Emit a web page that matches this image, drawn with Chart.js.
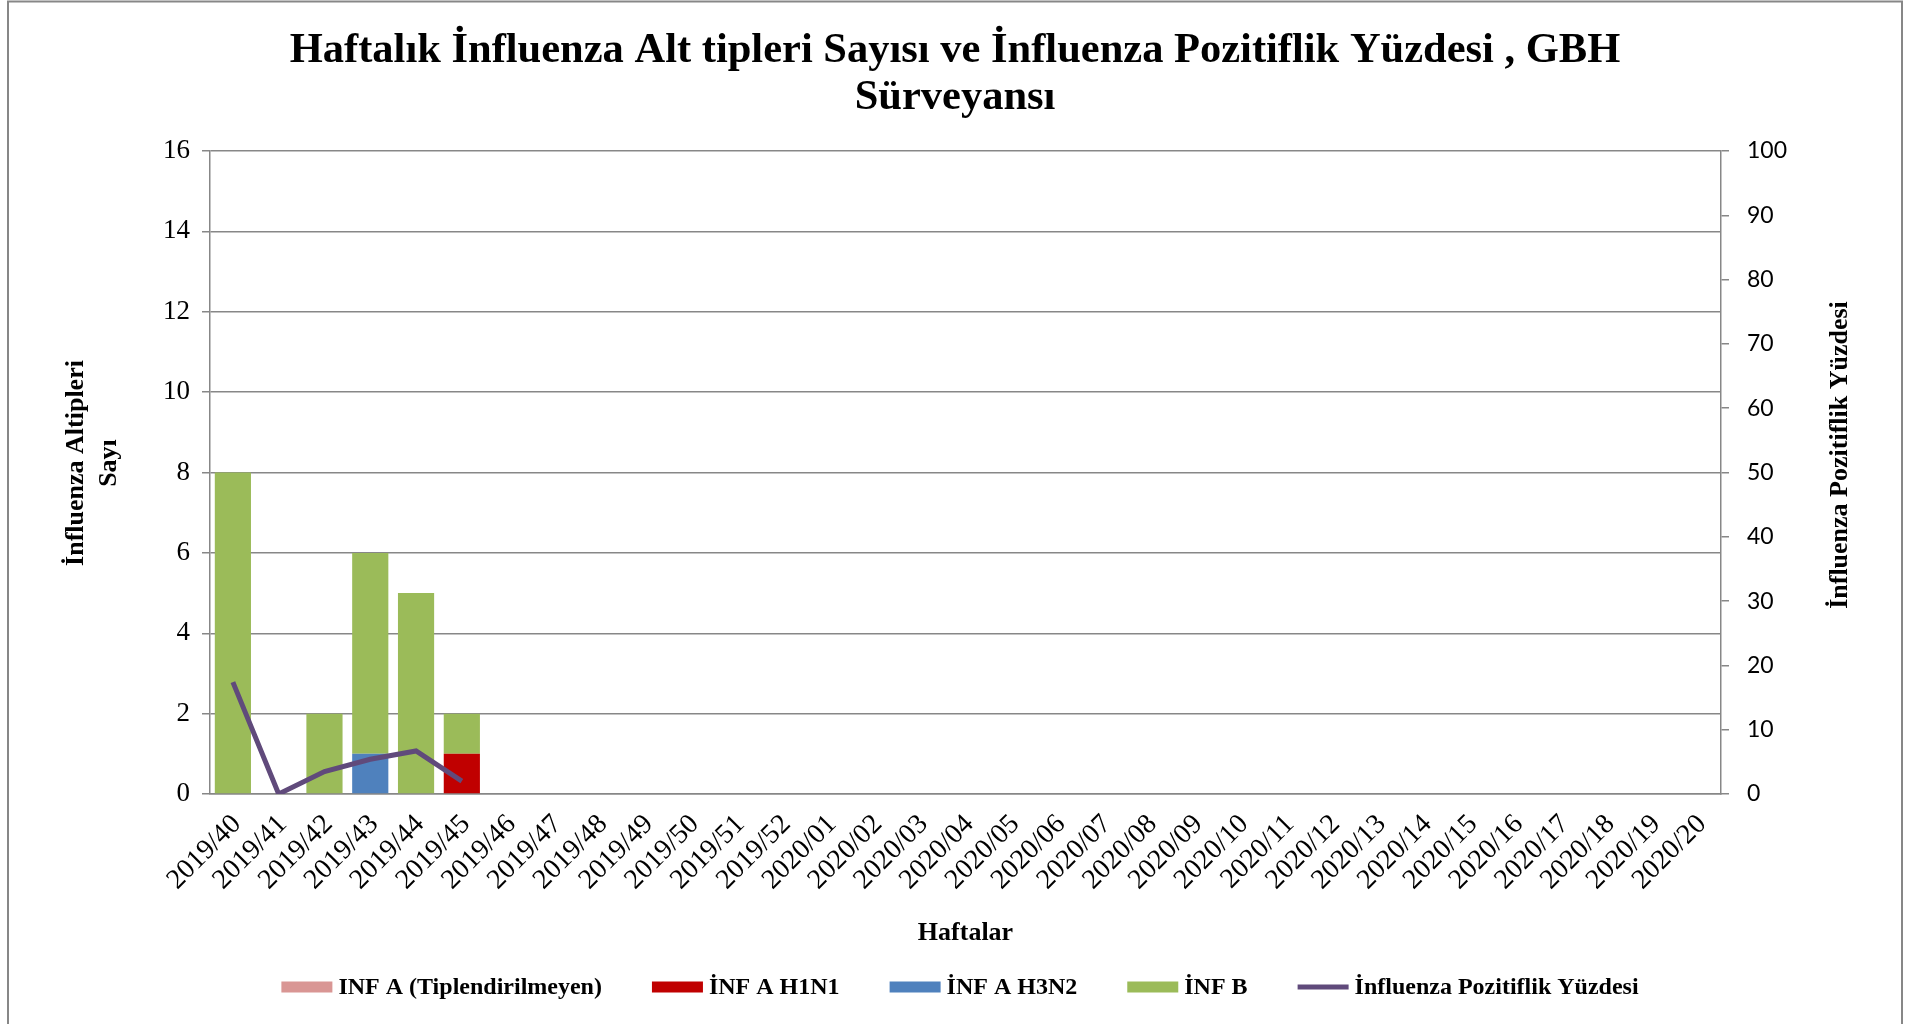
<!DOCTYPE html>
<html>
<head>
<meta charset="utf-8">
<script src="https://cdn.jsdelivr.net/npm/chart.js@4.4.1/dist/chart.umd.min.js"></script>
<style>
html,body{margin:0;padding:0;background:#fff;overflow:hidden;}
#wrap{width:1921px;height:1024px;position:relative;}
canvas{display:block;}
</style>
</head>
<body>
<div id="wrap"><canvas id="c" width="1921" height="1024"></canvas></div>
<script>
// ---- data ----
const weeks = [
  '2019/40','2019/41','2019/42','2019/43','2019/44','2019/45','2019/46','2019/47','2019/48','2019/49',
  '2019/50','2019/51','2019/52','2020/01','2020/02','2020/03','2020/04','2020/05','2020/06','2020/07',
  '2020/08','2020/09','2020/10','2020/11','2020/12','2020/13','2020/14','2020/15','2020/16','2020/17',
  '2020/18','2020/19','2020/20'
];
const infATiplendirilmeyen = [0, 0, 0, 0, 0, 0];
const infAH1N1 = [0, 0, 0, 0, 0, 1];
const infAH3N2 = [0, 0, 0, 1, 0, 0];
const infB = [8, 0, 2, 5, 5, 1];
const pozitiflikYuzdesi = [17.4, 0, 3.5, 5.4, 6.7, 2.0];

const seriesNames = ['INF A (Tiplendirilmeyen)', 'İNF A H1N1', 'İNF A H3N2', 'İNF B', 'İnfluenza Pozitiflik Yüzdesi'];
const titleLines = ['Haftalık İnfluenza Alt tipleri Sayısı ve İnfluenza Pozitiflik Yüzdesi , GBH', 'Sürveyansı'];
const xTitle = 'Haftalar';
const yTitleLines = ['İnfluenza Altipleri', 'Sayı'];
const y2Title = 'İnfluenza Pozitiflik Yüzdesi';

// ---- styling ----
const SERIF = '"Liberation Serif", "Times New Roman", serif';
const GRID = '#878787';

const decor = {
  id: 'decor',
  afterDraw(chart) {
    const ctx = chart.ctx;
    const area = chart.chartArea;
    ctx.save();
    // outer frame
    ctx.strokeStyle = GRID;
    ctx.lineWidth = 2;
    ctx.strokeRect(8, 1.5, 1894, 1040);

    ctx.fillStyle = '#000';
    // title
    ctx.font = 'bold 42.5px ' + SERIF;
    ctx.textAlign = 'center';
    ctx.textBaseline = 'alphabetic';
    ctx.fillText(titleLines[0], 955, 62);
    ctx.fillText(titleLines[1], 955, 109);

    // x axis title
    ctx.font = 'bold 26px ' + SERIF;
    ctx.fillText(xTitle, (area.left + area.right) / 2, 940);

    // left axis title (two lines, rotated)
    ctx.save();
    ctx.translate(83, 463);
    ctx.rotate(-Math.PI / 2);
    ctx.fillText(yTitleLines[0], 0, 0);
    ctx.restore();
    ctx.save();
    ctx.translate(116, 463);
    ctx.rotate(-Math.PI / 2);
    ctx.fillText(yTitleLines[1], 0, 0);
    ctx.restore();

    // right axis title
    ctx.save();
    ctx.translate(1847, 455);
    ctx.rotate(-Math.PI / 2);
    ctx.fillText(y2Title, 0, 0);
    ctx.restore();

    // legend
    ctx.font = 'bold 24px ' + SERIF;
    ctx.textAlign = 'left';
    const sw = 51, gapText = 6, gapItem = 50;
    const ds = chart.data.datasets;
    let total = 0;
    ds.forEach(d => { total += sw + gapText + ctx.measureText(d.label).width; });
    total += gapItem * (ds.length - 1);
    let x = 960 - total / 2;
    const cy = 987;
    ds.forEach(d => {
      if (d.type === 'line') {
        ctx.fillStyle = d.borderColor;
        ctx.fillRect(x, cy - 2.5, sw, 5);
      } else {
        ctx.fillStyle = d.backgroundColor;
        ctx.fillRect(x, cy - 5.5, sw, 11);
      }
      x += sw + gapText;
      ctx.fillStyle = '#000';
      ctx.fillText(d.label, x, 994);
      x += ctx.measureText(d.label).width + gapItem;
    });
    ctx.restore();
  }
};

new Chart(document.getElementById('c'), {
  data: {
    labels: weeks,
    datasets: [
      { type: 'bar', label: seriesNames[0], data: infATiplendirilmeyen, backgroundColor: '#D99694', yAxisID: 'y', order: 1 },
      { type: 'bar', label: seriesNames[1], data: infAH1N1, backgroundColor: '#C00000', yAxisID: 'y', order: 1 },
      { type: 'bar', label: seriesNames[2], data: infAH3N2, backgroundColor: '#4F81BD', yAxisID: 'y', order: 1 },
      { type: 'bar', label: seriesNames[3], data: infB, backgroundColor: '#9BBB59', yAxisID: 'y', order: 1 },
      { type: 'line', label: seriesNames[4], data: pozitiflikYuzdesi, borderColor: '#604A7B', backgroundColor: '#604A7B',
        borderWidth: 5, pointRadius: 0, tension: 0, borderJoinStyle: 'miter', borderCapStyle: 'butt', yAxisID: 'y2', order: 0 }
    ]
  },
  options: {
    responsive: false,
    animation: false,
    devicePixelRatio: 1,
    layout: { padding: { top: 151, left: 0, right: 0, bottom: 0 } },
    datasets: { bar: { categoryPercentage: 1.0, barPercentage: 0.79 } },
    plugins: {
      legend: { display: false },
      title: { display: false },
      tooltip: { enabled: false }
    },
    scales: {
      x: {
        stacked: true,
        grid: { display: false, drawTicks: false },
        border: { display: true, color: GRID, width: 1.5 },
        ticks: {
          autoSkip: false, maxRotation: 45, minRotation: 45,
          color: '#000', font: { family: SERIF, size: 28 }, padding: 14, labelOffset: 4
        },
        afterFit(s) { s.height = 230; }
      },
      y: {
        stacked: true,
        position: 'left',
        min: 0, max: 16,
        grid: { color: GRID, lineWidth: 1.5, tickLength: 8 },
        border: { display: true, color: GRID, width: 1.5 },
        ticks: { stepSize: 2, color: '#000', font: { family: SERIF, size: 27 }, padding: 12 },
        afterFit(s) { s.width = 210; }
      },
      y2: {
        position: 'right',
        min: 0, max: 100,
        grid: { drawOnChartArea: false, color: GRID, lineWidth: 1.5, tickLength: 8 },
        border: { display: true, color: GRID, width: 1.5 },
        ticks: { stepSize: 10, color: '#000', font: { family: 'Lato, "Liberation Sans", sans-serif', size: 23 }, padding: 18 },
        afterFit(s) { s.width = 200; }
      }
    }
  },
  plugins: [decor]
});
</script>
</body>
</html>
